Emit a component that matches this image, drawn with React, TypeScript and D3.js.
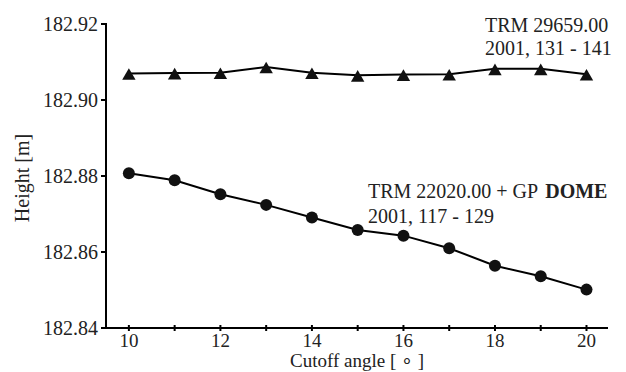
import React, { useEffect, useRef } from "react";
import * as d3 from "d3";

const cutoffAngles = [10, 11, 12, 13, 14, 15, 16, 17, 18, 19, 20];
const trm29659 = [182.907, 182.9071, 182.9072, 182.9087, 182.9072, 182.9065, 182.9067, 182.9068, 182.9082, 182.9082, 182.9068];
const trm22020Dome = [182.8807, 182.8789, 182.8752, 182.8724, 182.8691, 182.8658, 182.8643, 182.861, 182.8564, 182.8536, 182.8501];
const yTicks = [182.84, 182.86, 182.88, 182.9, 182.92];
const xLabelTicks = [10, 12, 14, 16, 18, 20];

const W = 626;
const H = 372;
const FONT = "'Liberation Serif', 'Times New Roman', serif";

export default function App() {
  const ref = useRef<SVGSVGElement>(null);

  useEffect(() => {
    const svg = d3.select(ref.current);
    svg.selectAll("*").remove();

    const x = d3.scaleLinear().domain([9.5, 20.47]).range([106, 608]);
    const y = d3.scaleLinear().domain([182.84, 182.92]).range([328, 24]);

    const g = svg.append("g");

    // axes lines
    g.append("line").attr("x1", 106).attr("x2", 106).attr("y1", y(182.92)).attr("y2", y(182.84))
      .attr("stroke", "#000").attr("stroke-width", 2);
    g.append("line").attr("x1", 105).attr("x2", 608).attr("y1", y(182.84)).attr("y2", y(182.84))
      .attr("stroke", "#000").attr("stroke-width", 2);

    // y ticks
    yTicks.forEach((t) => {
      g.append("line").attr("x1", 101).attr("x2", 107).attr("y1", y(t)).attr("y2", y(t))
        .attr("stroke", "#000").attr("stroke-width", 2);
      g.append("text").attr("x", 98).attr("y", y(t) + 7).attr("text-anchor", "end")
        .attr("font-family", FONT).attr("font-size", 20).attr("fill", "#222").text(t.toFixed(2));
    });

    // x ticks
    cutoffAngles.forEach((t) => {
      g.append("line").attr("x1", x(t)).attr("x2", x(t)).attr("y1", 325).attr("y2", 331)
        .attr("stroke", "#000").attr("stroke-width", 2);
    });
    xLabelTicks.forEach((t) => {
      g.append("text").attr("x", x(t)).attr("y", 347).attr("text-anchor", "middle")
        .attr("font-family", FONT).attr("font-size", 19).attr("fill", "#222").text(String(t));
    });

    // axis titles
    g.append("text").attr("x", 357).attr("y", 367).attr("text-anchor", "middle")
      .attr("font-family", FONT).attr("font-size", 19).attr("fill", "#222").text("Cutoff angle [ ∘ ]");
    g.append("text").attr("transform", "translate(29,178) rotate(-90)").attr("text-anchor", "middle")
      .attr("font-family", FONT).attr("font-size", 20).attr("fill", "#222").text("Height [m]");

    const line = d3.line<number>().x((_, i) => x(cutoffAngles[i])).y((d) => y(d));

    g.append("path").attr("d", line(trm29659)).attr("fill", "none").attr("stroke", "#000").attr("stroke-width", 2);
    g.append("path").attr("d", line(trm22020Dome)).attr("fill", "none").attr("stroke", "#000").attr("stroke-width", 2);

    const tri = d3.symbol().type(d3.symbolTriangle).size(78);
    g.selectAll(".tri").data(trm29659).enter().append("path")
      .attr("d", tri()).attr("transform", (d, i) => `translate(${x(cutoffAngles[i])},${y(d) + 2.5})`)
      .attr("fill", "#111");

    g.selectAll(".circ").data(trm22020Dome).enter().append("circle")
      .attr("cx", (_, i) => x(cutoffAngles[i])).attr("cy", (d) => y(d)).attr("r", 6).attr("fill", "#111");

    // annotations
    const ann = (xx: number, yy: number) =>
      g.append("text").attr("x", xx).attr("y", yy).attr("font-family", FONT).attr("font-size", 20).attr("fill", "#222");
    ann(485, 32).text("TRM 29659.00");
    ann(485, 55).text("2001, 131 - 141");
    const t1 = ann(368, 198);
    t1.append("tspan").text("TRM 22020.00 + GP");
    t1.append("tspan").attr("dx", 7).attr("font-weight", "bold").text("DOME");
    ann(368, 223).text("2001, 117 - 129");
  }, []);

  return (
    <svg ref={ref} width={W} height={H} style={{ position: "absolute", left: 0, top: 0, background: "#fff" }} />
  );
}
